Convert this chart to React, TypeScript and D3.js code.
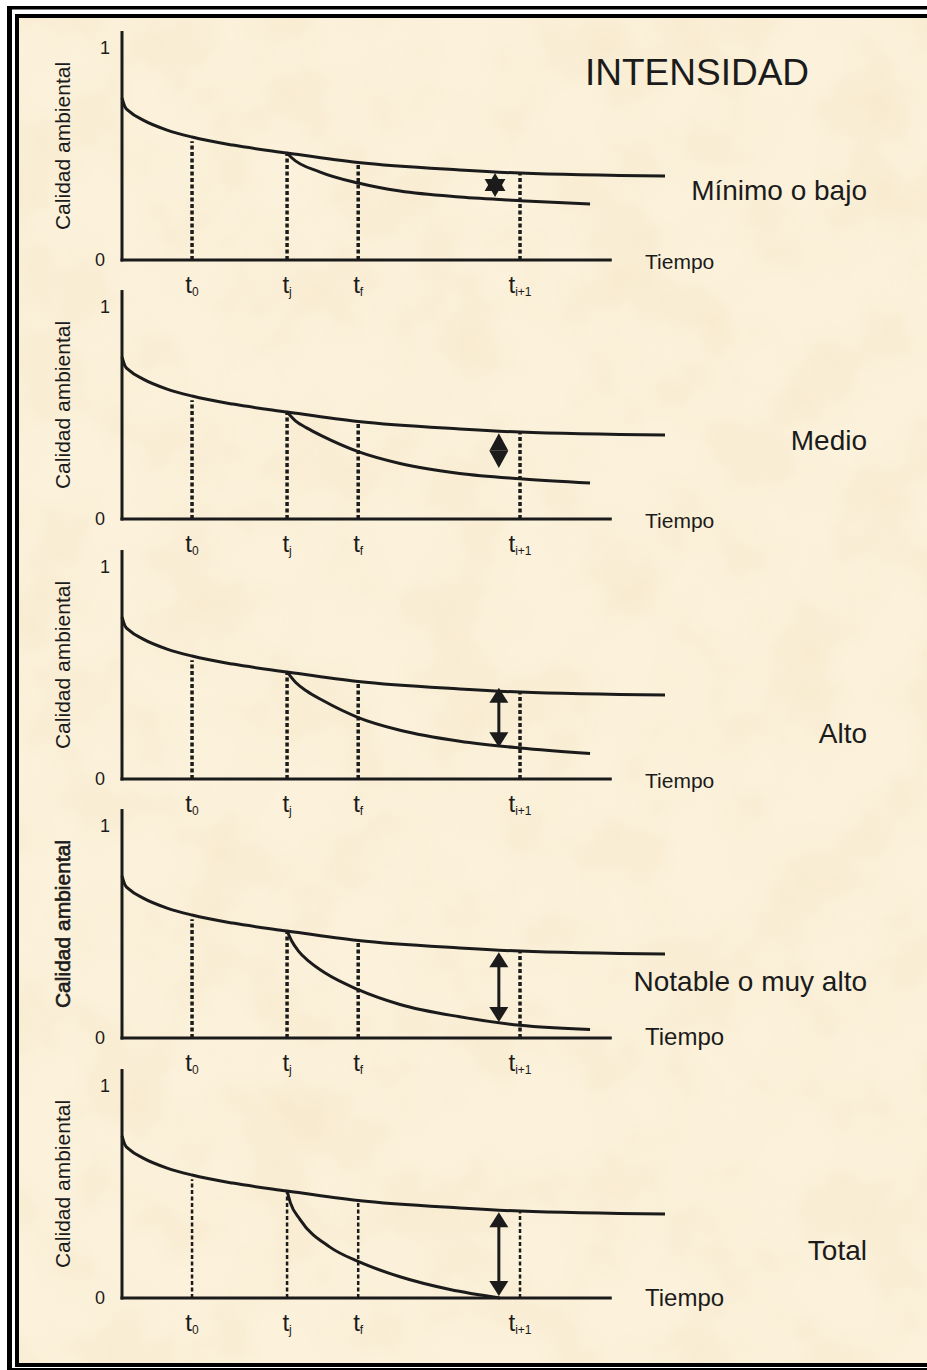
import React from "react";
import * as d3 from "d3";

// ---------- data ----------
const chartTitle = "INTENSIDAD";
const yAxisTitle = "Calidad ambiental";
const xAxisTitle = "Tiempo";
const intensityLabels = ["Mínimo o bajo", "Medio", "Alto", "Notable o muy alto", "Total"];
const yTickValues = [0, 1];
const yTickLabels = ["0", "1"];
const timeTickSubs = ["0", "j", "f", "i+1"];
const timeTickValues = [12.9, 30.4, 43.5, 73.3];
const timeTickTops = [0.56, 0.505, 0.46, 0.41];

// baseline (without project) environmental quality over time
const baselineCurve: [number, number][] = [
  [0, 0.764], [0.5, 0.725], [1.4, 0.7], [3.9, 0.66], [8.3, 0.613], [12.9, 0.58],
  [20.4, 0.542], [30.4, 0.505], [43.5, 0.46], [62.2, 0.425], [73.3, 0.41], [100, 0.396],
];

// quality with the impact, one per intensity
const impactCurveLow: [number, number][] = [
  [30.4, 0.505], [31.3, 0.481], [36.5, 0.415], [43.5, 0.363], [51.2, 0.325],
  [62.2, 0.297], [73.3, 0.28], [86.2, 0.264],
];
const impactCurveMedium: [number, number][] = [
  [30.4, 0.505], [32, 0.462], [34, 0.43], [37, 0.39], [43.5, 0.318], [51.2, 0.262],
  [62.2, 0.215], [73.3, 0.19], [86.2, 0.17],
];
const impactCurveHigh: [number, number][] = [
  [30.4, 0.505], [32, 0.455], [34, 0.415], [37, 0.37], [43.5, 0.29], [51.2, 0.23],
  [62.2, 0.178], [73.3, 0.146], [86.2, 0.12],
];
const impactCurveVeryHigh: [number, number][] = [
  [30.4, 0.505], [31.2, 0.46], [32.5, 0.41], [34.5, 0.36], [37.5, 0.305], [43.5, 0.228],
  [51.2, 0.158], [62.2, 0.1], [73.3, 0.06], [86.2, 0.04],
];
const impactCurveTotal: [number, number][] = [
  [30.4, 0.505], [31.0, 0.45], [32.8, 0.37], [38.3, 0.24], [43.7, 0.17],
  [51.2, 0.1], [60.4, 0.04], [69.6, 0.0],
];
const impactCurves = [impactCurveLow, impactCurveMedium, impactCurveHigh, impactCurveVeryHigh, impactCurveTotal];

const markerKinds = ["star", "diamond", "arrow", "arrow", "arrow"];
const markerTime = [68.7, 69.4, 69.4, 69.4, 69.4];
const markerTop = [0.354, 0.405, 0.43, 0.405, 0.405];
const markerBottom = [0.354, 0.24, 0.15, 0.075, 0.01];

const xAxisEnd = 90.2;
const yAxisEnd = 1.08;

// ---------- layout ----------
const W = 927;
const H = 1370;
const panelBase = [260, 519, 779, 1038, 1298];
const plotH = 212;
const ink = "#1b1b1b";
const font = "'Liberation Sans', Arial, Helvetica, sans-serif";
const labelDy = [-60, -69, -36, -47, -38];
const tiempoSize = [21, 21, 21, 24, 24];
const tiempoDy = [9, 9, 9, 7, 8];
const dashW = [3.5, 3.5, 3.5, 3.5, 2.5];
const yTitleStroke = [0, 0, 0, 0.6, 0];

const x = d3.scaleLinear().domain([0, 100]).range([122, 665]);

function Panel({ i }: { i: number }) {
  const base = panelBase[i];
  const y = d3.scaleLinear().domain([0, 1]).range([base, base - plotH]);
  const line = d3
    .line<[number, number]>()
    .x((d) => x(d[0]))
    .y((d) => y(d[1]))
    .curve(d3.curveMonotoneX);

  const mx = x(markerTime[i]);
  const yT = y(markerTop[i]);
  const yB = y(markerBottom[i]);
  const kind = markerKinds[i];
  let marker: React.ReactNode = null;
  if (kind === "star") {
    const R = 12;
    const up = [0, 1, 2].map((k) => {
      const a = -Math.PI / 2 + (k * 2 * Math.PI) / 3;
      return [mx + R * Math.cos(a), yT + R * Math.sin(a)].join(",");
    });
    const down = [0, 1, 2].map((k) => {
      const a = Math.PI / 2 + (k * 2 * Math.PI) / 3;
      return [mx + R * Math.cos(a), yT + R * Math.sin(a)].join(",");
    });
    marker = (
      <g fill={ink}>
        <polygon points={up.join(" ")} />
        <polygon points={down.join(" ")} />
      </g>
    );
  } else if (kind === "diamond") {
    const mid = (yT + yB) / 2;
    const hw = 9.5;
    marker = (
      <g fill={ink}>
        <polygon points={`${mx},${yT} ${mx + hw},${mid} ${mx - hw},${mid}`} />
        <polygon points={`${mx},${yB} ${mx + hw},${mid} ${mx - hw},${mid}`} />
      </g>
    );
  } else {
    const hh = 15;
    const hw = 9.5;
    marker = (
      <g fill={ink}>
        <line x1={mx} x2={mx} y1={yT + hh - 2} y2={yB - hh + 2} stroke={ink} strokeWidth={3} />
        <polygon points={`${mx},${yT} ${mx + hw},${yT + hh} ${mx - hw},${yT + hh}`} />
        <polygon points={`${mx},${yB} ${mx + hw},${yB - hh} ${mx - hw},${yB - hh}`} />
      </g>
    );
  }

  return (
    <g>
      {/* dashed time markers */}
      {timeTickValues.map((t, k) => (
        <line
          key={k}
          x1={x(t)}
          x2={x(t)}
          y1={y(0)}
          y2={y(timeTickTops[k])}
          stroke={ink}
          strokeWidth={dashW[i]}
          strokeDasharray="4,2.5"
        />
      ))}
      {/* curves */}
      <path d={line(baselineCurve) || ""} fill="none" stroke={ink} strokeWidth={3} />
      <path d={line(impactCurves[i]) || ""} fill="none" stroke={ink} strokeWidth={3} />
      {/* axes */}
      <line x1={x(0)} x2={x(0)} y1={y(0) + 1.5} y2={y(yAxisEnd)} stroke={ink} strokeWidth={3} />
      <line x1={x(0) - 1.5} x2={x(xAxisEnd)} y1={y(0)} y2={y(0)} stroke={ink} strokeWidth={3} />
      {yTickValues.map((v, k) => (
        <text
          key={k}
          x={v === 0 ? 105 : 110}
          y={y(v) + 6}
          textAnchor="end"
          fontSize={18}
          fontFamily={font}
          fill={ink}
        >
          {yTickLabels[k]}
        </text>
      ))}
      <text
        transform={`translate(70, ${base - 114}) rotate(-90)`}
        textAnchor="middle"
        fontSize={21}
        fontFamily={font}
        fill={ink}
        stroke={ink}
        strokeWidth={yTitleStroke[i]}
      >
        {yAxisTitle}
      </text>
      <text x={645} y={base + tiempoDy[i]} fontSize={tiempoSize[i]} fontFamily={font} fill={ink}>
        {xAxisTitle}
      </text>
      {timeTickValues.map((t, k) => (
        <text
          key={k}
          x={x(t)}
          y={base + 33}
          textAnchor="middle"
          fontSize={24}
          fontFamily={font}
          fill={ink}
        >
          t
          <tspan fontSize={12} dy={3}>
            {timeTickSubs[k]}
          </tspan>
        </text>
      ))}
      {marker}
      <text
        x={867}
        y={base + labelDy[i]}
        textAnchor="end"
        fontSize={28}
        fontFamily={font}
        fill={ink}
      >
        {intensityLabels[i]}
      </text>
    </g>
  );
}

export default function App() {
  return (
    <div style={{ position: "absolute", left: 0, top: 0, width: W, height: H }}>
      <svg width={W} height={H} viewBox={`0 0 ${W} ${H}`} style={{ display: "block" }}>
        <defs>
          <filter id="paper" x="0" y="0" width="100%" height="100%">
            <feTurbulence type="fractalNoise" baseFrequency="0.012" numOctaves={3} seed={7} />
            <feColorMatrix
              type="matrix"
              values="0 0 0 0 0.82  0 0 0 0 0.66  0 0 0 0 0.4  1.6 0 0 0 -0.55"
            />
          </filter>
        </defs>
        <rect x={0} y={0} width={W} height={H} fill="#ffffff" />
        {/* parchment */}
        <rect x={19} y={18} width={W - 19} height={1345} fill="#fcf2dc" />
        <rect x={19} y={18} width={W - 19} height={1345} filter="url(#paper)" opacity={0.3} />
        {/* double frame */}
        <g fill="#000">
          <rect x={7} y={6} width={W - 7} height={3.5} />
          <rect x={7} y={6} width={5} height={H - 6} />
          <rect x={7} y={1368} width={W - 7} height={2} />
          <rect x={15} y={14} width={W - 15} height={4} />
          <rect x={15} y={14} width={4} height={1353} />
          <rect x={15} y={1363} width={W - 15} height={4} />
        </g>
        <text x={585} y={85} fontSize={37} fontFamily={font} fill={ink}>
          {chartTitle}
        </text>
        {intensityLabels.map((_, i) => (
          <Panel key={i} i={i} />
        ))}
      </svg>
    </div>
  );
}
